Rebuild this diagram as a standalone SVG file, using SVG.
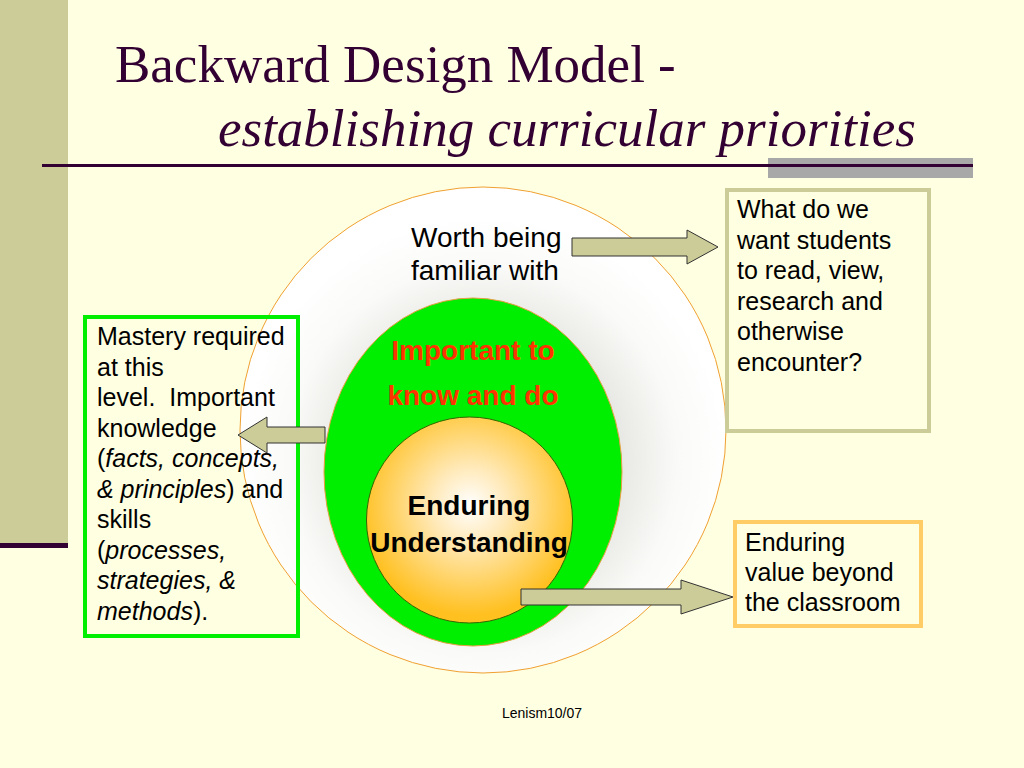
<svg xmlns="http://www.w3.org/2000/svg" width="1024" height="768" viewBox="0 0 1024 768">
<defs>
<style>
.title{font-family:"Liberation Serif","Times New Roman",serif;font-size:53px;fill:#330033}
.t{font-family:"Liberation Sans",Arial,sans-serif;fill:#000}
.box{font-size:25px}
.b{font-family:"Liberation Sans",Arial,sans-serif;font-weight:bold;font-size:28px;text-anchor:middle}
.i{font-style:italic}
.arrow{fill:#CCCC99;stroke:#333333;stroke-width:1}
</style>
<radialGradient id="outerG" cx="483" cy="460" r="243" gradientUnits="userSpaceOnUse">
<stop offset="0" stop-color="#C8C8C0"/>
<stop offset="0.55" stop-color="#E6E6E2"/>
<stop offset="0.8" stop-color="#FAFAF8"/>
<stop offset="1" stop-color="#FFFFFF"/>
</radialGradient>
<radialGradient id="innerG" cx="470" cy="505" r="110" gradientUnits="userSpaceOnUse">
<stop offset="0" stop-color="#FFFFFF"/>
<stop offset="0.35" stop-color="#FFE9B8"/>
<stop offset="1" stop-color="#FFC020"/>
</radialGradient>
</defs>
<rect x="0" y="0" width="1024" height="768" fill="#FFFFE1"/>
<g id="decor">
<rect x="0" y="0" width="68" height="545" fill="#CCCC99"/>
<rect x="0" y="543" width="68" height="5" fill="#330033"/>
<rect x="768" y="158" width="205" height="20" fill="#A8A8A8"/>
<rect x="42" y="164" width="931" height="3" fill="#330033"/>
</g>
<g id="title">
<text class="title" x="115" y="82">Backward Design Model -</text>
<text class="title i" x="218" y="146">establishing curricular priorities</text>
</g>
<g id="outer-circle">
<circle cx="483" cy="430" r="243" fill="url(#outerG)" stroke="#F0A030" stroke-width="1"/>
<text class="t" x="411" y="247" font-size="28">Worth being</text>
<text class="t" x="411" y="280" font-size="28">familiar with</text>
</g>
<g id="green-ellipse">
<ellipse cx="473" cy="472" rx="149" ry="174" fill="#00EE00" stroke="#E8A040" stroke-width="1"/>
<text class="b" x="473" y="360" fill="#FF3300">Important to</text>
<text class="b" x="473" y="405" fill="#FF3300">know and do</text>
</g>
<g id="inner-circle">
<circle cx="469.5" cy="520" r="103" fill="url(#innerG)" stroke="#336600" stroke-width="1"/>
<text class="b" x="469" y="515" fill="#000">Enduring</text>
<text class="b" x="469" y="552" fill="#000">Understanding</text>
</g>
<g id="mastery-box">
<rect x="85" y="317" width="213" height="319" fill="none" stroke="#00EE00" stroke-width="4"/>
<text class="t box" x="97" y="345">Mastery required</text>
<text class="t box" x="97" y="375.5">at this</text>
<text class="t box" x="97" y="406" xml:space="preserve">level.  Important</text>
<text class="t box" x="97" y="436.5">knowledge</text>
<text class="t box" x="97" y="467">(<tspan class="i">facts, concepts,</tspan></text>
<text class="t box" x="97" y="497.5"><tspan class="i">&amp; principles</tspan>) and</text>
<text class="t box" x="97" y="528">skills</text>
<text class="t box" x="97" y="558.5">(<tspan class="i">processes,</tspan></text>
<text class="t box" x="97" y="589"><tspan class="i">strategies, &amp;</tspan></text>
<text class="t box" x="97" y="619.5"><tspan class="i">methods</tspan>).</text>
</g>
<g id="question-box">
<rect x="727" y="190" width="202" height="241" fill="none" stroke="#CCCC99" stroke-width="4"/>
<text class="t box" x="737" y="218">What do we</text>
<text class="t box" x="737" y="248.5">want students</text>
<text class="t box" x="737" y="279">to read, view,</text>
<text class="t box" x="737" y="309.5">research and</text>
<text class="t box" x="737" y="340">otherwise</text>
<text class="t box" x="737" y="370.5">encounter?</text>
</g>
<g id="value-box">
<rect x="735" y="522" width="186" height="104" fill="none" stroke="#FFCC66" stroke-width="4"/>
<text class="t box" x="745" y="551">Enduring</text>
<text class="t box" x="745" y="581">value beyond</text>
<text class="t box" x="745" y="611">the classroom</text>
</g>
<g id="connectors">
<path class="arrow" d="M572,238 L687,238 L687,230 L718,247 L687,264 L687,256 L572,256 Z"/>
<path class="arrow" d="M325,427 L267,427 L267,417 L238,435 L267,453 L267,443 L325,443 Z"/>
<path class="arrow" d="M521,589 L681,589 L681,580 L733,597 L681,614 L681,605 L521,605 Z"/>
</g>
<text class="t" x="542" y="718" font-size="14" text-anchor="middle" fill="#222">Lenism10/07</text>
</svg>
